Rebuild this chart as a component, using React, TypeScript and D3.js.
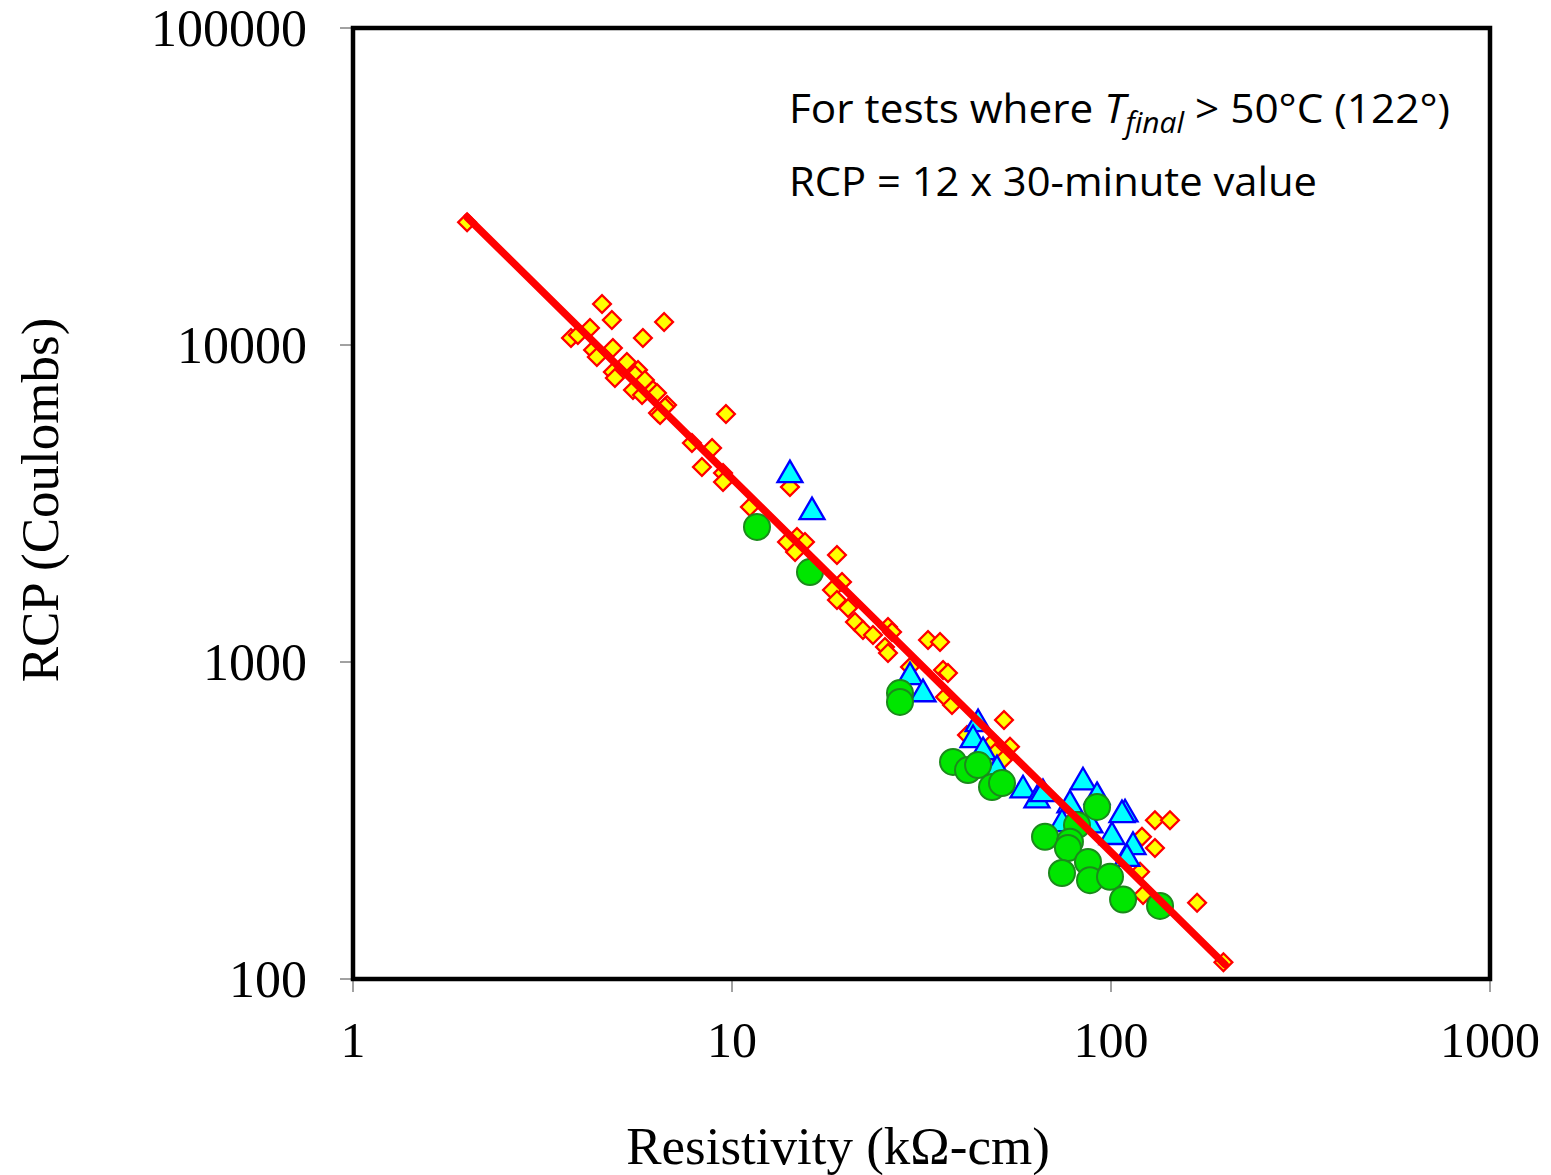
import React from "react";
import * as d3 from "d3";

// Resistivity (kΩ-cm) and RCP (Coulombs) for each series
const diamondX = [2.0, 4.54, 4.82, 6.62, 5.82, 3.76, 3.92, 4.22, 4.30, 4.40, 4.85, 5.28, 4.85, 4.91, 5.65, 5.55, 5.89, 5.48, 5.79, 6.19, 6.74, 6.38, 6.34, 6.66, 6.46, 9.64, 7.84, 8.86, 8.33, 9.47, 9.47, 11.15, 14.22, 13.97, 14.84, 15.58, 14.67, 18.92, 18.36, 19.51, 18.92, 20.24, 21.11, 22.16, 23.55, 25.8, 26.44, 25.33, 25.8, 32.9, 35.39, 29.49, 36.05, 37.14, 36.48, 38.06, 52.2, 41.69, 48.83, 54.14, 49.42, 51.88, 130.6, 143.1, 120.7, 130.6, 119.3, 121.5, 168.7, 198];
const diamondY = [24400, 13470, 11990, 11820, 10520, 10520, 10750, 11320, 9643, 9166, 9785, 8840, 8218, 7869, 8340, 8042, 7755, 7211, 6954, 7211, 6467, 6102, 7056, 6374, 6015, 6058, 4909, 4732, 4123, 3947, 3697, 3083, 3565, 2391, 2480, 2391, 2223, 2175, 1687, 1788, 1569, 1480, 1337, 1262, 1217, 1290, 1243, 1115, 1067, 1173, 1156, 964, 943, 923, 776, 732, 656, 588, 559, 540, 516, 491, 317, 317, 281, 259, 218, 184, 174, 113];

const triangleX = [14.22, 16.26, 29.49, 31.91, 44.59, 43.25, 45.97, 50.03, 58.6, 63.77, 66.15, 84.35, 91.87, 77.93, 74.25, 100.6, 108.9, 106.9, 114.3, 110.2, 88.0];
const triangleY = [3947, 3017, 910, 804, 647, 576, 528, 463, 400, 372, 389, 424, 381, 359, 313, 285, 336, 334, 265, 243, 310];

const circleX = [11.64, 16.06, 27.75, 27.75, 38.3, 41.95, 44.59, 48.53, 51.57, 91.87, 81.33, 66.97, 77.93, 76.99, 86.95, 74.25, 88.02, 99.4, 107.6, 134.7];
const circleY = [2667, 1922, 798, 748, 484, 456, 473, 403, 415, 349, 306, 281, 271, 259, 234, 216, 205, 210, 178, 170];

// Fitted power-law line endpoints
const fitX = [2, 200];
const fitY = [25300, 111];

const xTicks = [1, 10, 100, 1000];
const yTicks = [100, 1000, 10000, 100000];

const W = 1551;
const H = 1175;
const left = 353;
const right = 1490;
const top = 28;
const bottom = 979;

export default function App() {
  const x = d3.scaleLog().domain([1, 1000]).range([left, right]);
  const y = d3.scaleLog().domain([100, 100000]).range([bottom, top]);
  const line = d3.line<number>().x((d, i) => x(fitX[i])).y((d, i) => y(fitY[i]));
  const tri = d3.symbol().type(d3.symbolTriangle).size(270)();
  const serif = "'Liberation Serif', 'Times New Roman', serif";
  const sans = "'Open Sans', 'Liberation Sans', sans-serif";

  return (
    <svg width={W} height={H} style={{ position: "absolute", left: 0, top: 0, background: "#fff" }}>
      <rect x={0} y={0} width={W} height={H} fill="#fff" />
      {/* ticks */}
      {yTicks.map((t) => (
        <g key={"yt" + t}>
          <line x1={left - 13} x2={left} y1={y(t)} y2={y(t)} stroke="#444" strokeWidth={1} />
          <text x={307} y={y(t)} dy="0.35em" textAnchor="end" fontFamily={serif} fontSize={52} fill="#000">
            {t}
          </text>
        </g>
      ))}
      {xTicks.map((t) => (
        <g key={"xt" + t}>
          <line x1={x(t)} x2={x(t)} y1={bottom} y2={bottom + 13} stroke="#444" strokeWidth={1} />
          <text x={x(t)} y={1057} textAnchor="middle" fontFamily={serif} fontSize={50} fill="#000">
            {t}
          </text>
        </g>
      ))}
      {/* diamonds */}
      {diamondX.map((d, i) => (
        <rect
          key={"d" + i}
          x={-6.3}
          y={-6.3}
          width={12.6}
          height={12.6}
          transform={`translate(${x(d)},${y(diamondY[i])}) rotate(45)`}
          fill="#ffff00"
          stroke="#ff0000"
          strokeWidth={2.3}
        />
      ))}
      {/* triangles */}
      {triangleX.map((d, i) => (
        <path
          key={"t" + i}
          d={tri as string}
          transform={`translate(${x(d)},${y(triangleY[i]) + 2})`}
          fill="#00ffff"
          stroke="#0000ff"
          strokeWidth={2.3}
        />
      ))}
      {/* circles */}
      {circleX.map((d, i) => (
        <circle key={"c" + i} cx={x(d)} cy={y(circleY[i])} r={13} fill="#00e600" stroke="#1b8a1b" strokeWidth={2} />
      ))}
      {/* fit line */}
      <path d={line(fitX) as string} fill="none" stroke="#ff0000" strokeWidth={7.5} strokeLinecap="round" />
      {/* frame */}
      <rect x={left} y={top} width={right - left} height={bottom - top} fill="none" stroke="#000" strokeWidth={4.5} />
      {/* annotation */}
      <text x={789} y={123} fontFamily={sans} fontSize={41} fill="#000" textLength={661} lengthAdjust="spacingAndGlyphs">
        For tests where <tspan fontStyle="italic">T</tspan>
        <tspan fontStyle="italic" fontSize={29} dy={10}>final</tspan>
        <tspan dy={-10}> &gt; 50°C (122°)</tspan>
      </text>
      <text x={789} y={196} fontFamily={sans} fontSize={41} fill="#000" textLength={528} lengthAdjust="spacingAndGlyphs">
        RCP = 12 x 30-minute value
      </text>
      {/* axis titles */}
      <text x={838} y={1164} textAnchor="middle" fontFamily={serif} fontSize={53} fill="#000">
        Resistivity (kΩ-cm)
      </text>
      <text
        transform="translate(58,500) rotate(-90)"
        textAnchor="middle"
        fontFamily={serif}
        fontSize={53}
        fill="#000"
      >
        RCP (Coulombs)
      </text>
    </svg>
  );
}
